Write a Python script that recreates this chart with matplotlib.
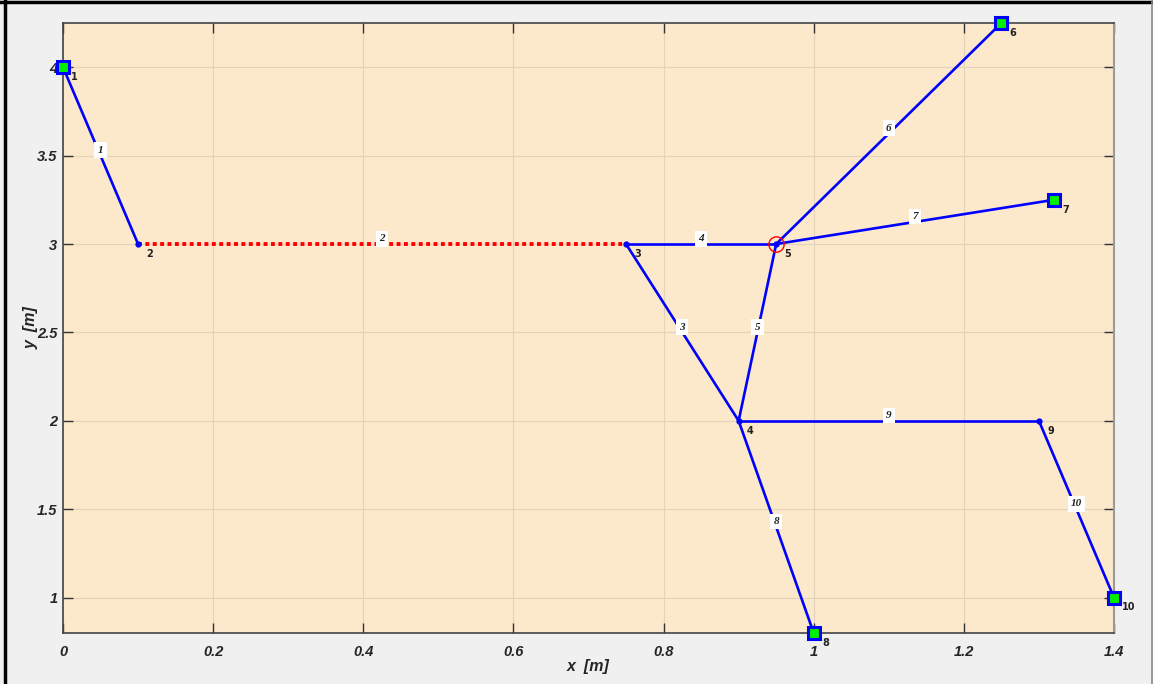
import matplotlib
matplotlib.use("Agg")
import matplotlib.pyplot as plt
from matplotlib.lines import Line2D

node_ids = [1, 2, 3, 4, 5, 6, 7, 8, 9, 10]
node_x = [0.0, 0.1, 0.75, 0.9, 0.95, 1.25, 1.32, 1.0, 1.3, 1.4]
node_y = [4.0, 3.0, 3.0, 2.0, 3.0, 4.25, 3.25, 0.8, 2.0, 1.0]
terminal_nodes = [1, 6, 7, 8, 10]
inner_nodes = [2, 3, 4, 5, 9]
highlight_node = 5

edge_ids = [1, 2, 3, 4, 5, 6, 7, 8, 9, 10]
edge_from = [1, 2, 3, 3, 4, 5, 5, 4, 4, 9]
edge_to = [2, 3, 4, 5, 5, 6, 7, 8, 9, 10]
dotted_edges = [2]

xticks = [0, 0.2, 0.4, 0.6, 0.8, 1.0, 1.2, 1.4]
xticklabels = ["0", "0.2", "0.4", "0.6", "0.8", "1", "1.2", "1.4"]
yticks = [1, 1.5, 2, 2.5, 3, 3.5, 4]
yticklabels = ["1", "1.5", "2", "2.5", "3", "3.5", "4"]

W, H = 1153, 684
fig = plt.figure(figsize=(W / 100, H / 100), dpi=100, facecolor="#f0f0f0")
ax = fig.add_axes([63 / W, (H - 633) / H, (1114 - 63) / W, (633 - 23) / H])
ax.set_facecolor("#fce9cb")

pos = {n: (x, y) for n, x, y in zip(node_ids, node_x, node_y)}

for eid, a, b in zip(edge_ids, edge_from, edge_to):
    xa, ya = pos[a]
    xb, yb = pos[b]
    if eid in dotted_edges:
        ax.plot([xa, xb], [ya, yb], color="red", lw=2.8, linestyle=(0, (1, 0.9)), zorder=3,
                solid_capstyle="butt", dash_capstyle="butt")
    else:
        ax.plot([xa, xb], [ya, yb], color="blue", lw=1.9, zorder=3)
    mx, my = (xa + xb) / 2, (ya + yb) / 2
    ax.text(mx, my + 0.03, str(eid), fontsize=8, fontfamily="Liberation Serif",
            fontstyle="italic", fontweight="bold", color="#222222",
            ha="center", va="center", zorder=5,
            bbox=dict(boxstyle="square,pad=0.3", fc="white", ec="none"))

for n in inner_nodes:
    ax.plot(pos[n][0], pos[n][1], "o", color="blue", ms=3.5, zorder=4)
for n in terminal_nodes:
    ax.plot(pos[n][0], pos[n][1], "s", mfc="#00ee00", mec="blue", mew=2.2, ms=8.5, zorder=6,
            clip_on=False)

ax.plot(pos[highlight_node][0], pos[highlight_node][1], "o", mfc="none", mec="red",
        mew=1.0, ms=11, zorder=6)

for n in node_ids:
    ax.annotate(str(n), pos[n], xytext=(6, -7), textcoords="offset points",
                fontsize=7, fontfamily="DejaVu Sans", fontweight="bold",
                color="#222222", ha="left", va="center",
                zorder=7, annotation_clip=False)

ax.set_xlim(0, 1.4)
ax.set_ylim(0.8, 4.25)
ax.set_xticks(xticks)
ax.set_xticklabels(xticklabels)
ax.set_yticks(yticks)
ax.set_yticklabels(yticklabels)
ax.grid(True, color="#e3d3bb", lw=0.8)
ax.set_axisbelow(True)
ax.tick_params(direction="in", length=7, width=1, color="#333333", top=True, right=True,
               labelsize=10.5, labelcolor="#262626")
ax.tick_params(axis="x", pad=9)
ax.tick_params(axis="y", pad=4)
for lab in ax.get_xticklabels() + ax.get_yticklabels():
    lab.set_fontweight("bold")
    lab.set_fontstyle("italic")
    lab.set_fontfamily("Liberation Sans")
for s in ["left", "bottom", "top"]:
    ax.spines[s].set_color("#444444")
    ax.spines[s].set_linewidth(1.2)
ax.spines["right"].set_color("#999999")
ax.spines["right"].set_linewidth(1.5)

ax.set_xlabel("x  [m]", fontsize=11.5, fontweight="bold", fontstyle="italic", color="#262626",
              fontfamily="Liberation Sans", labelpad=0)
ax.set_ylabel("y  [m]", fontsize=11.5, fontweight="bold", fontstyle="italic", color="#262626",
              fontfamily="Liberation Sans", labelpad=-1)

# figure border
fig.add_artist(Line2D([4.5 / W, 4.5 / W], [0, 1], color="black", lw=2.5, transform=fig.transFigure))
fig.add_artist(Line2D([0, 1], [1 - 1.5 / H, 1 - 1.5 / H], color="black", lw=2.5, transform=fig.transFigure))
fig.add_artist(Line2D([1 - 1.5 / W, 1 - 1.5 / W], [0, 1], color="#888888", lw=1.2, transform=fig.transFigure))

fig.savefig("out.png", dpi=100, facecolor=fig.get_facecolor())
